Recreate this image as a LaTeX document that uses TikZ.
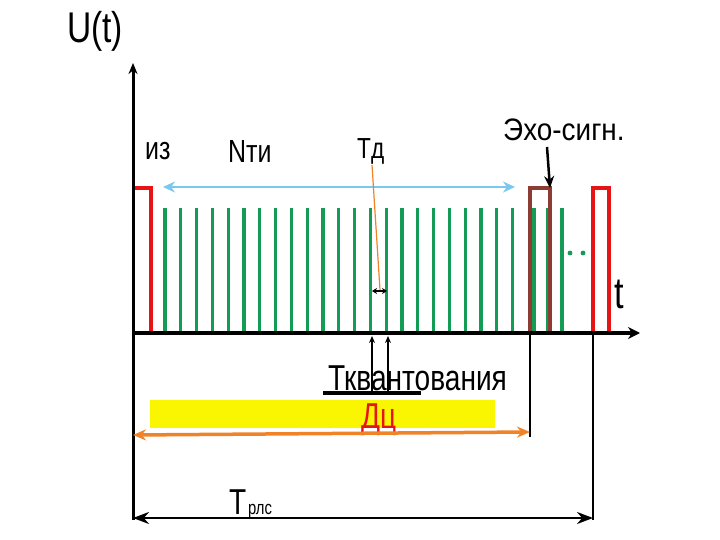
\documentclass[tikz,border=0pt]{standalone}
\usepackage{fontspec}
\setmainfont{Liberation Sans}[FakeStretch=0.78]
\newfontfamily\widerfont{Liberation Sans}[FakeStretch=0.9]
\usetikzlibrary{arrows.meta}
\definecolor{pgreen}{RGB}{20,155,85}
\definecolor{pred}{RGB}{230,20,20}
\definecolor{pbrown}{RGB}{140,60,50}
\definecolor{pblue}{RGB}{120,200,240}
\definecolor{porange}{RGB}{240,130,40}
\definecolor{pyellow}{RGB}{250,245,0}
\tikzset{
  lbl/.style={inner sep=0pt, anchor=base west},
  pulse/.style={line width=3.6pt, line join=miter},
  tick/.style={pgreen, line width=3.2pt},
  dimline/.style={black, line width=2pt},
}
\newcommand{\fs}[1]{\fontsize{#1}{#1}\selectfont}
\begin{document}
\begin{tikzpicture}[x=1pt,y=-1pt]
\useasboundingbox (0,0) rectangle (720,540);
% coordinates
\coordinate (O) at (133,333);
\coordinate (ytop) at (133,63);
\coordinate (ybot) at (133,520);
\coordinate (xend) at (640,333);
% yellow bar
\fill[pyellow] (150,400) rectangle (495,428);
% green sampling lines
\foreach \i in {0,...,22} {
  \draw[tick] ({165+15.8*\i},208) -- ({165+15.8*\i},333);
}
\foreach \x in {534,548,562} {
  \draw[tick] (\x,208) -- (\x,333);
}
\fill[pgreen] (570,253) circle (2.4);
\fill[pgreen] (583,253) circle (2.4);
% pulses
\draw[pulse, pred] (133,188) -- (151,188) -- (151,333);
\draw[pulse, pbrown] (530,333) -- (530,188) -- (550,188) -- (550,333);
\draw[pulse, pred] (593,333) -- (593,188) -- (609,188) -- (609,333);
% axes
\draw[line width=3pt, -{Stealth[length=11pt,width=9pt]}] (ybot) -- (ytop);
\draw[line width=4.5pt, -{Stealth[length=12pt,width=12pt]}] (O) -- (xend);
% vertical markers below axis
\coordinate (e1) at (530,333);
\coordinate (e2) at (530,437);
\coordinate (r1) at (593,333);
\coordinate (r2) at (593,520);
\draw[dimline] (e1) -- (e2);
\draw[dimline] (r1) -- (r2);
% light blue double arrow
\coordinate (b1) at (163,187);
\coordinate (b2) at (515,187);
\draw[pblue, line width=2.6pt, {Stealth[length=12pt,width=11pt]}-{Stealth[length=12pt,width=11pt]}] (b1) -- (b2);
% labels
\node[lbl] (U) at (67,43) {\fs{43}U(t)};
\node[lbl] (iz) at (145,160) {\fs{32}из};
\node[lbl] (N) at (228,163) {\fs{32}Nти};
\node[lbl] (Td) at (357,159) {\fs{29}Тд};
\node[lbl] (echo) at (503,141) {\widerfont\fs{31}Эхо-сигн.};
\node[lbl] (t) at (614,308) {\fs{44}t};
\node[lbl] (Tkv) at (328,390) {\fs{36}Тквантования};
\node[lbl, text=pred] (Dc) at (361,428) {\fs{36}Дц};
\node[lbl] (T) at (229,514) {\fs{36}Т};
\node[lbl] (rls) at (248,514) {\fs{19}рлс};
% echo arrow
\coordinate (ea1) at (547,147);
\coordinate (ea2) at (550,188);
\draw[line width=2.5pt, -{Stealth[length=12pt,width=10pt]}] (ea1) -- (ea2);
% Td pointer
\coordinate (td1) at (372,165);
\coordinate (td2) at (380,290);
\draw[porange, line width=1.2pt] (td1) -- (td2);
\coordinate (s1) at (372,291);
\coordinate (s2) at (387,291);
\draw[line width=1.2pt, {Stealth[length=5pt,width=6pt]}-{Stealth[length=5pt,width=6pt]}] (s1) -- (s2);
% quantization arrows from below
\coordinate (q1a) at (372,395);
\coordinate (q1b) at (372,336);
\coordinate (q2a) at (388,395);
\coordinate (q2b) at (388,336);
\draw[line width=1.2pt, -{Stealth[length=7pt,width=6pt]}] (q1a) -- (q1b);
\draw[line width=1.2pt, -{Stealth[length=7pt,width=6pt]}] (q2a) -- (q2b);
% underline
\draw[line width=3.5pt] (323,393) -- (421,393);
% orange double arrow
\coordinate (o1) at (133,435);
\coordinate (o2) at (530,432);
\draw[porange, line width=3.5pt, {Stealth[length=13pt,width=11pt]}-{Stealth[length=13pt,width=11pt]}] (o1) -- (o2);
% Trls arrow
\coordinate (tr1) at (133,518);
\coordinate (tr2) at (593,518);
\draw[line width=2.5pt, {Stealth[length=16pt,width=12pt]}-{Stealth[length=16pt,width=12pt]}] (tr1) -- (tr2);
\end{tikzpicture}
\end{document}
